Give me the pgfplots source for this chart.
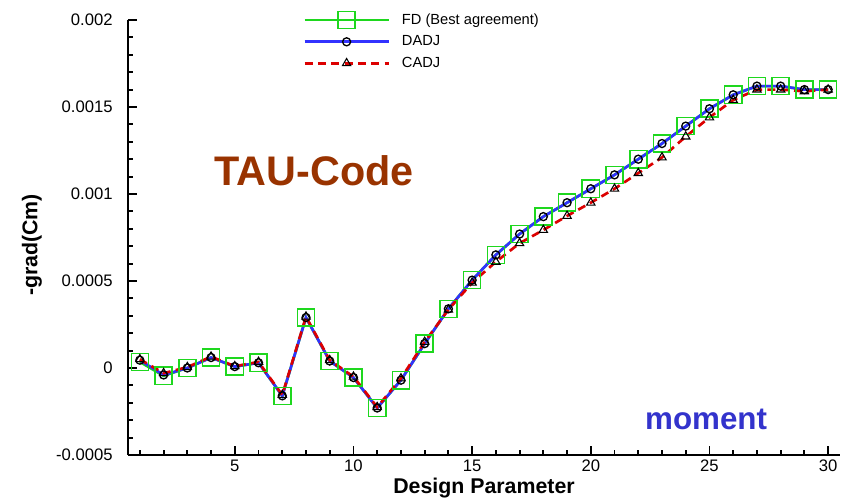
\documentclass[border=0pt]{standalone}
\usepackage{pgfplots}
\pgfplotsset{compat=1.18}
\usepackage{fontspec}
\setmainfont{Liberation Sans}
\definecolor{fdgreen}{RGB}{30,215,30}
\definecolor{adjblue}{RGB}{50,50,255}
\definecolor{adjred}{RGB}{220,0,0}
\definecolor{taubrown}{RGB}{153,51,0}
\definecolor{momblue}{RGB}{51,51,204}

\pgfplotstableread{
x y
1 0.000035
2 -0.000045
3 0.0
4 0.00006
5 0.000008
6 0.00003
7 -0.00016
8 0.00029
9 0.00004
10 -0.000055
11 -0.00023
12 -0.00007
13 0.00014
14 0.00034
15 0.000505
16 0.00065
17 0.00077
18 0.00087
19 0.00095
20 0.00103
21 0.00111
22 0.0012
23 0.00129
24 0.00139
25 0.00149
26 0.00157
27 0.00162
28 0.00162
29 0.0016
30 0.0016
}\fdtable

\pgfplotstableread{
x y
1 0.000045
2 -0.00004
3 0.0
4 0.00006
5 0.000008
6 0.00003
7 -0.00016
8 0.00029
9 0.00004
10 -0.000055
11 -0.00023
12 -0.00007
13 0.00014
14 0.00034
15 0.000505
16 0.00065
17 0.00077
18 0.00087
19 0.00095
20 0.00103
21 0.00111
22 0.0012
23 0.00129
24 0.00139
25 0.00149
26 0.00157
27 0.00162
28 0.00162
29 0.0016
30 0.0016
}\dadjtable

\pgfplotstableread{
x y
1 0.00005
2 -0.00003
3 0.000005
4 0.000065
5 0.00001
6 0.000035
7 -0.000155
8 0.000295
9 0.000045
10 -0.00005
11 -0.000225
12 -0.00006
13 0.00015
14 0.000335
15 0.00049
16 0.00061
17 0.000717
18 0.000793
19 0.000874
20 0.00095
21 0.00103
22 0.00112
23 0.00121
24 0.00133
25 0.00144
26 0.00154
27 0.0016
28 0.0016
29 0.00159
30 0.0016
}\cadjtable

\begin{document}
\begin{tikzpicture}
\begin{axis}[
  scale only axis, width=534pt, height=326.25pt,
  xmin=0.5, xmax=30.5, ymin=-0.0005, ymax=0.002,
  clip=false,
  axis x line*=bottom, axis y line*=left,
  axis line style={line width=2pt, black},
  tick align=inside,
  major tick length=6.75pt, minor tick length=4pt,
  every tick/.style={black, line width=1.4pt},
  xtick={5,10,...,30},
  minor xtick={1,2,...,30},
  ytick={-0.0005,0,0.0005,0.001,0.0015,0.002},
  minor y tick num=4,
  scaled y ticks=false,
  yticklabel style={/pgf/number format/fixed, /pgf/number format/precision=4, xshift=-8pt},
  /pgf/number format/assume math mode=true,
  tick label style={font=\fontsize{12.5}{14}\selectfont},
  xlabel={Design Parameter},
  ylabel={-grad(Cm)},
  label style={font=\bfseries\fontsize{16}{18}\selectfont},
  xlabel style={at={(axis description cs:0.5,0)}, anchor=center, yshift=-24.75pt},
  ylabel style={at={(axis description cs:-0.135,0.483)}, anchor=center},
  legend style={at={(axis description cs:0.2458,1.021)}, anchor=north west, draw=none, fill=none,
    font=\fontsize{11}{13}\selectfont, row sep=3pt, inner sep=0pt, column sep=7pt},
  legend cell align=left,
  legend image code/.code={\draw[mark repeat=2,mark phase=2] plot coordinates {(0pt,0pt) (31.5pt,0pt) (63pt,0pt)};},
]
\addplot[color=fdgreen, line width=2pt, mark=square, mark size=6.4pt,
  mark options={solid, draw=fdgreen, fill=none, line width=1.2pt}] table[x=x,y=y] {\fdtable};
\addlegendentry{FD (Best agreement)}
\addplot[color=adjblue, line width=2pt, mark=o, mark size=3pt,
  mark options={solid, draw=black, fill=white, line width=1pt}] table[x=x,y=y] {\dadjtable};
\addlegendentry{DADJ}
\addplot[color=adjred, line width=2pt, dash pattern=on 6pt off 4pt, mark=triangle, mark size=3.6pt,
  mark options={solid, draw=black, fill=white, line width=0.8pt}] table[x=x,y=y] {\cadjtable};
\addlegendentry{CADJ}
\node[anchor=base, font=\bfseries\fontsize{31}{34}\selectfont, text=taubrown, inner sep=0pt] at (axis cs:8.34,0.001046) {TAU-Code};
\node[anchor=base, font=\bfseries\fontsize{23.5}{26}\selectfont, text=momblue, inner sep=0pt] at (axis cs:24.86,-0.000356) {moment};
\end{axis}
\pgfresetboundingbox
\path[use as bounding box] (-96pt,-33pt) rectangle (549.75pt,341.25pt);
\end{tikzpicture}
\end{document}
